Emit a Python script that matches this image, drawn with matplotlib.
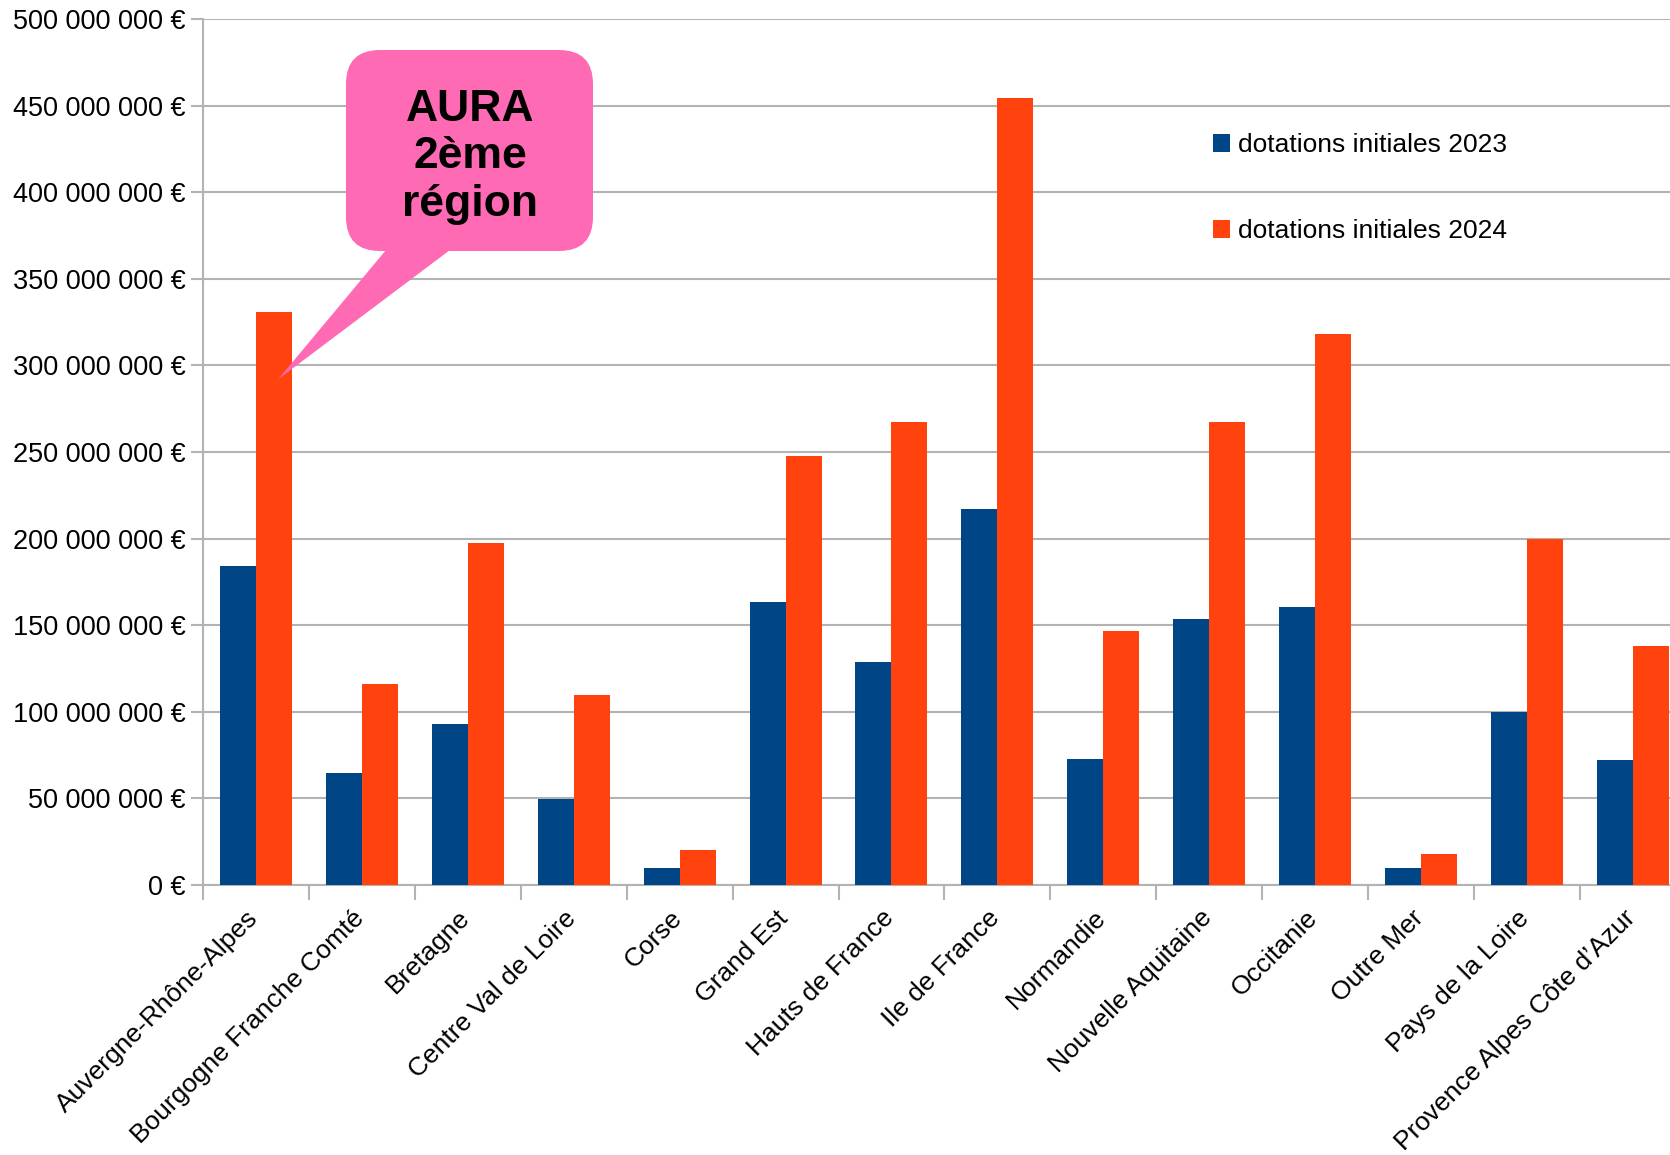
import matplotlib
matplotlib.use("Agg")
import matplotlib.pyplot as plt
import numpy as np
from matplotlib.patches import FancyBboxPatch, Polygon
from matplotlib.transforms import IdentityTransform, ScaledTranslation

plt.rcParams["font.family"] = ["Liberation Sans", "DejaVu Sans"]

regions = ["Auvergne-Rhône-Alpes", "Bourgogne Franche Comté", "Bretagne",
           "Centre Val de Loire", "Corse", "Grand Est", "Hauts de France",
           "Ile de France", "Normandie", "Nouvelle Aquitaine", "Occitanie",
           "Outre Mer", "Pays de la Loire", "Provence Alpes Côte d’Azur"]
dot_2023 = [184e6, 64.6e6, 93e6, 49.8e6, 9.8e6, 163.6e6, 128.5e6,
            217e6, 72.6e6, 153.8e6, 160.5e6, 9.8e6, 99.6e6, 72e6]
dot_2024 = [331e6, 116.2e6, 197.4e6, 109.5e6, 20.3e6, 247.8e6, 267.5e6,
            454.5e6, 146.4e6, 267.5e6, 318e6, 17.8e6, 199.9e6, 137.8e6]
y_ticks = np.arange(0, 500e6 + 1, 50e6)

c2023 = "#004586"
c2024 = "#ff420e"
pink = "#ff6ab4"
grid_c = "#b3b3b3"

fig = plt.figure(figsize=(16.7, 11.55), dpi=100)
ax = fig.add_axes([203 / 1670, 1 - 885 / 1155, 1 - 203 / 1670, (885 - 19) / 1155])

x = np.arange(len(regions))
w = 0.34
ax.bar(x - w / 2, dot_2023, w, color=c2023, label="dotations initiales 2023", zorder=3)
ax.bar(x + w / 2, dot_2024, w, color=c2024, label="dotations initiales 2024", zorder=3)

ax.set_yticks(y_ticks)
ax.set_yticklabels([f"{v:,.0f}".replace(",", " ") + " €" for v in y_ticks])
ax.yaxis.grid(True, color=grid_c, linewidth=1.5, zorder=0)
ax.tick_params(axis="y", length=9, width=1.5, color=grid_c, labelsize=19.5, pad=3.5)

# ticks between the groups, labels at group centres
ax.set_xticks(np.arange(-0.5, len(regions), 1.0))
ax.set_xticklabels([])
ax.tick_params(axis="x", which="major", length=11, width=1.5, color=grid_c)
ax.set_xticks(x, minor=True)
ax.set_xticklabels(regions, minor=True, rotation=45, ha="right", va="top",
                   rotation_mode="anchor", fontsize=19)
ax.tick_params(axis="x", which="minor", length=0, pad=15)
offs = ScaledTranslation(-10 / 100, 0, fig.dpi_scale_trans)
for lab in ax.get_xticklabels(minor=True):
    lab.set_transform(lab.get_transform() + offs)

ax.set_xlim(-0.5, 13.35)
ax.set_ylim(0, 500e6)

for s in ["top", "right"]:
    ax.spines[s].set_visible(False)
for s in ["left", "bottom"]:
    ax.spines[s].set_color(grid_c)
    ax.spines[s].set_linewidth(1.5)

leg = ax.legend(loc="upper left", bbox_to_anchor=(1213 / 1670, 1 - 133 / 1155),
                bbox_transform=fig.transFigure, frameon=False, fontsize=19,
                handlelength=0.65, handleheight=0.65, handletextpad=0.3,
                labelspacing=2.36, borderpad=0, borderaxespad=0)

# callout pointing at the AURA 2024 bar
H = 1155
box = FancyBboxPatch((346, H - 251), 247, 201, boxstyle="round,pad=0,rounding_size=34",
                     transform=IdentityTransform(), fc=pink, ec="none", zorder=5)
fig.add_artist(box)
fig.canvas.draw()
tip = ax.transData.transform((0.21, dot_2024[0] - 39e6))
ptr = Polygon([(386, H - 250), (450, H - 250), tuple(tip)], closed=True,
              transform=IdentityTransform(), fc=pink, ec="none", zorder=5)
fig.add_artist(ptr)
fig.text(470 / 1670, 1 - 157 / 1155, "AURA\n2ème\nrégion", ha="center", va="center",
         fontsize=32, fontweight="bold", linespacing=1.21, zorder=6)

fig.savefig("out.png", dpi=100)
